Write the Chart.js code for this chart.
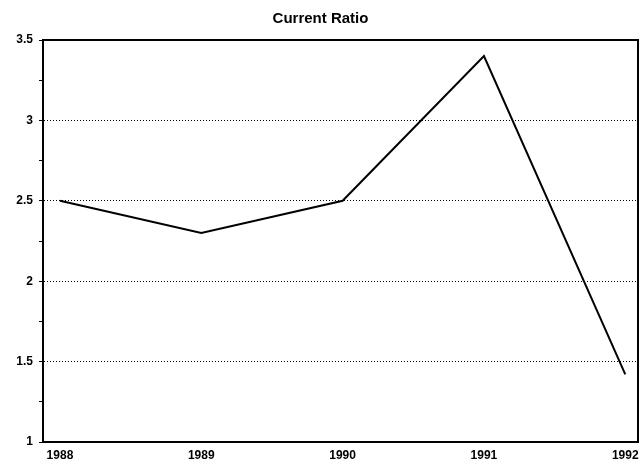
<!DOCTYPE html>
<html>
<head>
<meta charset="utf-8">
<script src="https://cdn.jsdelivr.net/npm/chart.js@4/dist/chart.umd.min.js"></script>
<style>
  html, body { margin: 0; padding: 0; background: #fff; }
  #wrap { width: 641px; height: 467px; }
</style>
</head>
<body>
<div id="wrap"><canvas id="c"></canvas></div>
<script>
const years = [1988, 1989, 1990, 1991, 1992];
const ratios = [2.5, 2.3, 2.5, 3.4, 1.42];
const yLabels = [1, 1.5, 2, 2.5, 3, 3.5];
const gridValues = [1.5, 2, 2.5, 3];

const font = { family: '"Liberation Sans", Arial, sans-serif', weight: 'bold', size: 12 };

new Chart(document.getElementById('c'), {
  type: 'line',
  data: {
    datasets: [{
      label: 'Current Ratio',
      data: years.map((y, i) => ({ x: y, y: ratios[i] })),
      borderColor: '#000',
      borderWidth: 2,
      pointRadius: 0,
      tension: 0,
      fill: false,
    }]
  },
  options: {
    responsive: true,
    maintainAspectRatio: false,
    animation: false,
    layout: { padding: 0 },
    plugins: {
      legend: { display: false },
      tooltip: { enabled: false },
      title: {
        display: true,
        text: 'Current Ratio',
        color: '#000',
        font: { family: font.family, weight: 'bold', size: 15 },
        padding: { top: 10, bottom: 12 },
      }
    },
    scales: {
      x: {
        type: 'linear',
        position: 'bottom',
        min: 1987.88,
        max: 1992.09,
        afterBuildTicks: s => { s.ticks = years.map(v => ({ value: v })); },
        afterFit: s => { s.height = 25; s.paddingLeft = 0; s.paddingRight = 0; },
        ticks: {
          color: '#000',
          font: font,
          padding: 6,
          maxRotation: 0,
          autoSkip: false,
          callback: v => String(v),
        },
        grid: { display: true, drawOnChartArea: false, drawTicks: false },
        border: { display: true, color: '#000', width: 2 },
      },
      xTop: {
        type: 'linear',
        position: 'top',
        min: 1987.88,
        max: 1992.09,
        afterFit: s => { s.height = 0; },
        ticks: { display: false },
        grid: { display: false },
        border: { display: true, color: '#000', width: 2 },
      },
      y: {
        min: 1,
        max: 3.5,
        afterBuildTicks: s => {
          const t = [];
          for (let v = 1; v <= 3.5001; v += 0.25) t.push({ value: Math.round(v * 100) / 100 });
          s.ticks = t;
        },
        afterFit: s => { s.width = 43; },
        ticks: {
          color: '#000',
          font: font,
          padding: 6,
          autoSkip: false,
          callback: v => (yLabels.includes(v) ? String(v) : ''),
        },
        grid: {
          color: ctx => (ctx.tick && gridValues.includes(ctx.tick.value) ? '#000' : 'rgba(0,0,0,0)'),
          lineWidth: 1,
          drawTicks: true,
          tickLength: 4,
          tickColor: '#000',
          tickWidth: 1,
        },
        border: { display: true, color: '#000', width: 2, dash: [1, 2] },
      },
      yRight: {
        position: 'right',
        min: 1,
        max: 3.5,
        afterFit: s => { s.width = 3; },
        ticks: { display: false },
        grid: { display: false },
        border: { display: true, color: '#000', width: 2 },
      }
    }
  }
});
</script>
</body>
</html>
